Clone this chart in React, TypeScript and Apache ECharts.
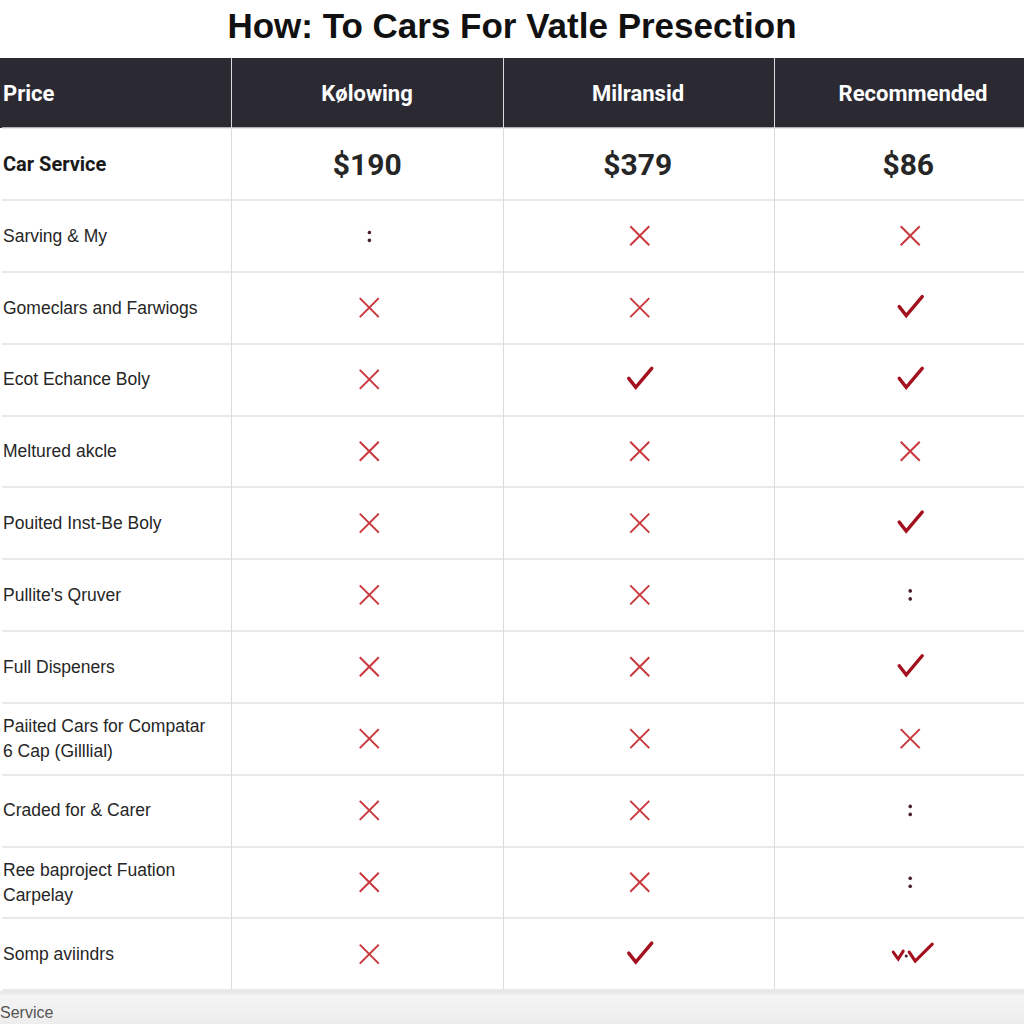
import React, { useEffect, useRef } from "react";
import * as echarts from "echarts";

const titleText = "How: To Cars For Vatle Presection";
const headers = ["Price", "Kølowing", "Milransid", "Recommended"];
const priceRowLabel = "Car Service";
const prices = ["$190", "$379", "$86"];
const featureRows = [
  "Sarving & My",
  "Gomeclars and Farwiogs",
  "Ecot Echance Boly",
  "Meltured akcle",
  "Pouited Inst-Be Boly",
  "Pullite's Qruver",
  "Full Dispeners",
  "Paiited Cars for Compatar\n6 Cap (Gilllial)",
  "Craded for & Carer",
  "Ree baproject Fuation\nCarpelay",
  "Somp aviindrs",
];
// x = cross, v = check, : = dots, vv = double check
const kolowing = [":", "x", "x", "x", "x", "x", "x", "x", "x", "x", "x"];
const milransid = ["x", "x", "v", "x", "x", "x", "x", "x", "x", "x", "v"];
const recommended = ["x", "v", "v", "x", "v", ":", "v", "x", ":", ":", "vv"];
const footerText = "Service";

// layout
const W = 1024;
const H = 1024;
const HEADER_TOP = 58;
const BODY_TOP = 128;
const BODY_BOTTOM = 990;
const COL_EDGES = [0, 231, 503, 774, 1024];
const HEADER_CENTERS = [3, 367, 638, 913];
const COL_CENTERS = [368, 639, 910];

const categories = [priceRowLabel, ...featureRows];
const markColumns = [kolowing, milransid, recommended];
const CODE: Record<string, number> = { x: 0, v: 1, ":": 2, vv: 3 };

const RED = "#c8383d";
const DARKRED = "#a3111f";

export default function App() {
  const ref = useRef<HTMLDivElement>(null);
  useEffect(() => {
    document.body.style.margin = "0";
    const chart = echarts.init(ref.current!, null, { renderer: "svg" });

    const markData: number[][] = [];
    markColumns.forEach((col, c) => {
      col.forEach((m, r) => {
        markData.push([COL_CENTERS[c], r + 1, CODE[m]]);
      });
    });
    const priceData = prices.map((p, c) => ({ value: [COL_CENTERS[c] - 2, 0], label: p }));

    const graphics: any[] = [
      {
        type: "rect",
        shape: { x: 0, y: HEADER_TOP, width: W, height: BODY_TOP - HEADER_TOP },
        style: { fill: "#2b2a33" },
        z: 0,
      },
      {
        type: "rect",
        shape: { x: 0, y: BODY_BOTTOM + 1, width: W, height: H - BODY_BOTTOM },
        style: {
          fill: new echarts.graphic.LinearGradient(0, 0, 0, 1, [
            { offset: 0, color: "#e4e4e4" },
            { offset: 0.15, color: "#f4f4f4" },
            { offset: 1, color: "#ededed" },
          ]),
        },
        z: 0,
      },
      {
        type: "text",
        x: 0,
        y: 1012,
        style: {
          text: footerText,
          fill: "#555",
          fontSize: 16,
          fontFamily: "Liberation Sans",
          textVerticalAlign: "middle",
        },
        z: 5,
      },
    ];
    COL_EDGES.slice(1, 4).forEach((x) => {
      graphics.push({
        type: "line",
        shape: { x1: x + 0.5, y1: HEADER_TOP, x2: x + 0.5, y2: BODY_BOTTOM },
        style: { stroke: "#dcdcdc", lineWidth: 1 },
        z: 2,
      });
    });
    headers.forEach((h, i) => {
      const left = i === 0;
      graphics.push({
        type: "text",
        x: HEADER_CENTERS[i],
        y: 93,
        style: {
          text: h,
          fill: "#ffffff",
          fontSize: 22,
          fontWeight: "bold",
          fontFamily: "Roboto",
          textAlign: left ? "left" : "center",
          textVerticalAlign: "middle",
        },
        z: 5,
      });
    });

    const check = (dx: number, dy: number, pts: number[][], w: number) => ({
      type: "polyline",
      shape: { points: pts.map((p) => [dx + p[0], dy + p[1]]) },
      style: { stroke: DARKRED, lineWidth: w, fill: null, lineJoin: "miter", lineCap: "round" },
    });

    const option: any = {
      animation: false,
      backgroundColor: "#ffffff",
      title: {
        text: titleText,
        left: "center",
        top: 3,
        textStyle: {
          fontSize: 35,
          fontWeight: "bold",
          color: "#111",
          fontFamily: "Liberation Sans",
        },
      },
      grid: { left: 0, right: 0, top: BODY_TOP, bottom: H - BODY_BOTTOM },
      xAxis: {
        type: "value",
        min: 0,
        max: W,
        show: false,
      },
      yAxis: {
        type: "category",
        inverse: true,
        data: categories,
        axisLine: { show: false },
        axisTick: { show: false },
        splitLine: { show: true, lineStyle: { color: "#e2e2e2", width: 1.5 } },
        axisLabel: {
          inside: true,
          margin: 1,
          formatter: (v: string, i: number) => (i === 0 ? `{b|${v}}` : `{n|${v}}`),
          rich: {
            b: { fontSize: 20, fontWeight: "bold", color: "#1a1a1a", fontFamily: "Roboto" },
            n: { fontSize: 17.5, color: "#262626", fontFamily: "Liberation Sans", lineHeight: 25 },
          },
        },
      },
      graphic: graphics,
      series: [
        {
          type: "custom",
          data: priceData,
          renderItem: (params: any, api: any) => {
            const pt = api.coord([api.value(0), api.value(1)]);
            return {
              type: "text",
              x: pt[0],
              y: pt[1] + 1,
              style: {
                text: prices[params.dataIndex],
                fill: "#262626",
                fontSize: 30,
                fontWeight: "bold",
                fontFamily: "Roboto",
                textAlign: "center",
                textVerticalAlign: "middle",
              },
            };
          },
          z: 5,
        },
        {
          type: "custom",
          data: markData,
          renderItem: (params: any, api: any) => {
            const pt = api.coord([api.value(0), api.value(1)]);
            const x = pt[0];
            const y = pt[1];
            const code = api.value(2);
            if (code === 0) {
              const s = 9.5;
              return {
                type: "group",
                children: [
                  { type: "line", shape: { x1: x - s, y1: y - s, x2: x + s, y2: y + s }, style: { stroke: RED, lineWidth: 2 } },
                  { type: "line", shape: { x1: x + s, y1: y - s, x2: x - s, y2: y + s }, style: { stroke: RED, lineWidth: 2 } },
                ],
              };
            }
            if (code === 1) {
              return {
                type: "group",
                children: [check(x, y, [[-11, -1], [-4, 8], [12, -11]], 3.4)],
              };
            }
            if (code === 2) {
              return {
                type: "group",
                children: [
                  { type: "circle", shape: { cx: x, cy: y - 4, r: 1.8 }, style: { fill: "#4a2030" } },
                  { type: "circle", shape: { cx: x, cy: y + 4, r: 1.8 }, style: { fill: "#4a2030" } },
                ],
              };
            }
            return {
              type: "group",
              children: [
                check(x, y, [[-17, -2], [-12, 5], [-7, -3]], 3),
                { type: "circle", shape: { cx: x - 4, cy: y + 2, r: 1.5 }, style: { fill: "#4a2030" } },
                check(x, y, [[-1, -2], [5, 7], [22, -10]], 3.2),
              ],
            };
          },
          z: 5,
        },
      ],
    };
    chart.setOption(option);
    return () => chart.dispose();
  }, []);
  return (
    <div
      ref={ref}
      style={{ position: "fixed", left: 0, top: 0, width: W, height: H }}
    />
  );
}
